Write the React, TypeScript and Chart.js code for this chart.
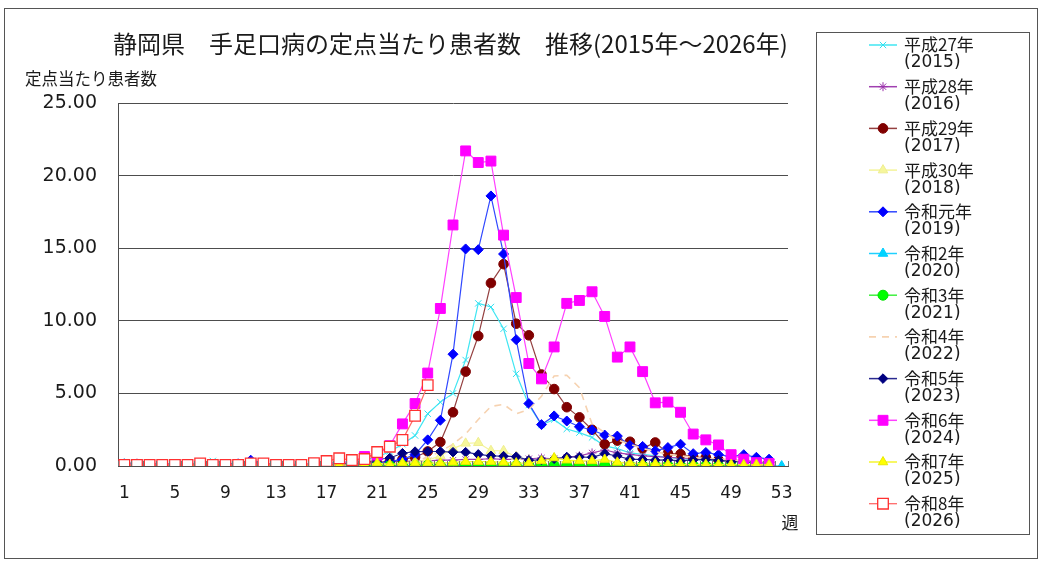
import React, { useEffect, useRef } from 'react';
import { Chart, registerables } from 'chart.js';

Chart.register(...registerables);

const TITLE = '静岡県　手足口病の定点当たり患者数　推移(2015年～2026年)';
const Y_TITLE = '定点当たり患者数';
const X_UNIT = '週';

const weeks = ['1','2','3','4','5','6','7','8','9','10','11','12','13','14','15','16','17','18','19','20','21','22','23','24','25','26','27','28','29','30','31','32','33','34','35','36','37','38','39','40','41','42','43','44','45','46','47','48','49','50','51','52','53'];
const yTicks = [0, 5, 10, 15, 20, 25];

const eraLabels = ['平成27年','平成28年','平成29年','平成30年','令和元年','令和2年','令和3年','令和4年','令和5年','令和6年','令和7年','令和8年'];
const yearLabels = ['(2015)','(2016)','(2017)','(2018)','(2019)','(2020)','(2021)','(2022)','(2023)','(2024)','(2025)','(2026)'];

const y2015 = [0.1,0.1,0.1,0.1,0.1,0.15,0.2,0.35,0.2,0.15, 0.15,0.15,0.1,0.1,0.15,0.15,0.2,0.25,0.3,0.45, 0.6,1.0,1.5,2.1,3.6,4.4,5.0,7.3,11.2,10.95, 9.45,6.35,4.2,2.82,3.2,2.55,2.3,1.97,1.38,1.2, 0.9,0.8,0.7,0.6,0.5,0.45,0.4,0.35,0.3,0.3, 0.25,0.2];
const y2016 = [0.2,0.2,0.15,0.15,0.15,0.1,0.1,0.1,0.1,0.15, 0.3,0.15,0.1,0.1,0.1,0.1,0.1,0.15,0.15,0.2, 0.25,0.3,0.3,0.35,0.35,0.4,0.4,0.45,0.45,0.5, 0.45,0.45,0.5,0.55,0.5,0.6,0.7,0.9,1.1,0.9, 0.8,0.7,0.65,0.6,0.55,0.5,0.45,0.4,0.35,0.3, 0.3,0.25];
const y2017 = [0.1,0.1,0.1,0.1,0.05,0.05,0.05,0.05,0.05,0.05, 0.05,0.05,0.05,0.05,0.05,0.1,0.1,0.1,0.15,0.2, 0.2,0.3,0.45,0.6,1.0,1.65,3.7,6.5,8.95,12.6, 13.9,9.8,9.0,6.3,5.3,4.05,3.35,2.5,1.5,1.75, 1.67,1.22,1.62,0.87,0.82,0.62,0.6,0.42,0.4,0.35, 0.3,0.25];
const y2018 = [0.05,0.05,0.05,0.05,0.05,0.05,0.05,0.05,0.05,0.05, 0.05,0.05,0.05,0.05,0.05,0.05,0.1,0.1,0.1,0.1, 0.15,0.15,0.2,0.3,0.4,0.7,1.2,1.56,1.6,1.05, 1.05,0.64,0.4,0.35,0.3,0.3,0.3,0.3,0.3,0.25, 0.25,0.2,0.2,0.2,0.15,0.15,0.15,0.15,0.1,0.1, 0.1,0.1];
const y2019 = [0.1,0.1,0.1,0.1,0.1,0.1,0.1,0.1,0.1,0.15, 0.4,0.15,0.1,0.1,0.1,0.1,0.1,0.1,0.15,0.15, 0.2,0.3,0.45,0.8,1.8,3.15,7.7,14.95,14.9,18.6, 14.6,8.7,4.3,2.85,3.45,3.1,2.7,2.48,2.13,2.06, 1.42,1.35,1.05,1.27,1.5,0.85,0.93,0.78,0.65,0.78, 0.6,0.47];
const y2020 = [0.12,0.1,0.1,0.1,0.08,0.08,0.07,0.07,0.06,0.06, 0.05,0.05,0.03,0.03,0.02,0.02,0.02,0.02,0.02,0.02, 0.02,0.02,0.02,0.02,0.03,0.02,0.02,0.02,0.02,0.02, 0.02,0.02,0.02,0.03,0.02,0.02,0.02,0.02,0.02,0.02, 0.02,0.02,0.02,0.02,0.02,0.03,0.02,0.02,0.02,0.02, 0.02,0.02,0.0];
const y2021 = [0.02,0.02,0.03,0.02,0.02,0.03,0.02,0.02,0.03,0.02, 0.02,0.03,0.02,0.02,0.03,0.02,0.03,0.02,0.03,0.04, 0.03,0.04,0.05,0.04,0.05,0.04,0.05,0.05,0.06,0.05, 0.05,0.04,0.05,0.04,0.04,0.05,0.04,0.03,0.04,0.03, 0.03,0.04,0.03,0.03,0.02,0.03,0.03,0.02,0.02,0.03, 0.02,0.02];
const y2022 = [0.05,0.05,0.05,0.05,0.04,0.04,0.04,0.04,0.04,0.05, 0.05,0.05,0.05,0.05,0.06,0.06,0.07,0.08,0.08,0.1, 0.1,0.12,0.15,0.3,0.6,1.0,1.5,2.2,3.2,4.1, 4.25,3.6,3.9,4.8,6.2,6.25,5.4,2.9,2.3,1.8, 1.5,1.2,1.0,0.8,0.7,0.6,0.5,0.5,0.4,0.4, 0.3,0.3];
const y2023 = [0.05,0.05,0.05,0.05,0.05,0.05,0.05,0.05,0.05,0.05, 0.05,0.05,0.05,0.05,0.06,0.08,0.1,0.12,0.15,0.2, 0.45,0.55,0.88,0.99,1.0,1.0,0.95,0.95,0.8,0.7, 0.68,0.64,0.4,0.42,0.5,0.62,0.62,0.6,0.85,0.69, 0.46,0.45,0.4,0.42,0.35,0.42,0.45,0.4,0.3,0.28, 0.22,0.22];
const y2024 = [0.1,0.1,0.1,0.1,0.1,0.1,0.1,0.1,0.1,0.1, 0.1,0.1,0.1,0.1,0.1,0.15,0.15,0.2,0.3,0.65, 0.75,1.4,2.9,4.3,6.4,10.85,16.6,21.7,20.9,21.0, 15.9,11.6,7.06,6.0,8.2,11.2,11.4,12.0,10.3,7.5, 8.2,6.5,4.35,4.4,3.7,2.2,1.8,1.45,0.78,0.47, 0.23,0.18];
const y2025 = [0.05,0.05,0.05,0.05,0.05,0.05,0.05,0.05,0.05,0.05, 0.05,0.05,0.05,0.05,0.05,0.05,0.05,0.1,0.05,0.1, 0.2,0.1,0.2,0.2,0.2,0.2,0.25,0.3,0.3,0.3, 0.25,0.2,0.2,0.35,0.55,0.4,0.35,0.35,0.45,0.25, 0.2,0.15,0.15,0.1,0.1,0.1,0.1,0.1,0.1,0.08, 0.1,0.08];
const y2026 = [0.07,0.07,0.07,0.07,0.07,0.07,0.18,0.07,0.07,0.07, 0.18,0.18,0.07,0.07,0.07,0.2,0.34,0.53,0.41,0.48, 0.96,1.33,1.79,3.46,5.57];

type Style = {
  line: string; point: string; fill: string; stroke: string; radius: number; dash?: number[]; bw?: number;
};
const seriesData = [y2015, y2016, y2017, y2018, y2019, y2020, y2021, y2022, y2023, y2024, y2025, y2026];
const styles: Style[] = [
  { line: '#40e6f2', point: 'crossRot', fill: '#40e6f2', stroke: '#30e0f0', radius: 4.5 },
  { line: '#a040b0', point: 'star', fill: '#a040b0', stroke: '#9a30aa', radius: 4.5 },
  { line: '#944040', point: 'circle', fill: '#800000', stroke: '#800000', radius: 4.8 },
  { line: '#f4f49a', point: 'triangle', fill: '#f6f69c', stroke: '#eeee90', radius: 5.5 },
  { line: '#3048ff', point: 'rectRot', fill: '#0000ff', stroke: '#0000ff', radius: 5 },
  { line: '#20d0ff', point: 'triangle', fill: '#00d4ff', stroke: '#00ccff', radius: 5.5 },
  { line: '#40f040', point: 'circle', fill: '#00ff00', stroke: '#00e000', radius: 5 },
  { line: '#f6d2b0', point: 'circle', fill: '#f6d2b0', stroke: '#f6d2b0', radius: 0, dash: [7, 6], bw: 1.6 },
  { line: '#2a2a90', point: 'rectRot', fill: '#000080', stroke: '#000080', radius: 4.8 },
  { line: '#ff40ff', point: 'rect', fill: '#ff00ff', stroke: '#ff00ff', radius: 7 },
  { line: '#f4f430', point: 'triangle', fill: '#ffff00', stroke: '#e8e800', radius: 5.5 },
  { line: '#ff6a6a', point: 'rect', fill: '#ffffff', stroke: '#ff3030', radius: 7.5, bw: 1.3 },
];

function drawMarker(ctx: CanvasRenderingContext2D, s: Style, x: number, y: number) {
  const r = s.radius;
  if (r <= 0) return;
  ctx.save();
  ctx.setLineDash([]);
  ctx.fillStyle = s.fill;
  ctx.strokeStyle = s.stroke;
  ctx.lineWidth = s.point === 'rect' && s.fill === '#ffffff' ? 1.3 : 1;
  ctx.beginPath();
  let fill = true;
  switch (s.point) {
    case 'circle':
      ctx.arc(x, y, r, 0, Math.PI * 2);
      break;
    case 'triangle': {
      let a = 0;
      ctx.moveTo(x + Math.sin(a) * r, y - Math.cos(a) * r);
      a += (2 * Math.PI) / 3;
      ctx.lineTo(x + Math.sin(a) * r, y - Math.cos(a) * r);
      a += (2 * Math.PI) / 3;
      ctx.lineTo(x + Math.sin(a) * r, y - Math.cos(a) * r);
      ctx.closePath();
      break;
    }
    case 'rectRot':
      ctx.moveTo(x - r, y);
      ctx.lineTo(x, y - r);
      ctx.lineTo(x + r, y);
      ctx.lineTo(x, y + r);
      ctx.closePath();
      break;
    case 'rect': {
      const h = r * Math.SQRT1_2;
      ctx.rect(x - h, y - h, 2 * h, 2 * h);
      break;
    }
    case 'crossRot': {
      fill = false;
      const d = r * Math.SQRT1_2;
      ctx.moveTo(x - d, y - d); ctx.lineTo(x + d, y + d);
      ctx.moveTo(x + d, y - d); ctx.lineTo(x - d, y + d);
      break;
    }
    case 'star': {
      fill = false;
      const d = r * Math.SQRT1_2;
      ctx.moveTo(x - d, y - d); ctx.lineTo(x + d, y + d);
      ctx.moveTo(x + d, y - d); ctx.lineTo(x - d, y + d);
      ctx.moveTo(x, y - r); ctx.lineTo(x, y + r);
      ctx.moveTo(x - r, y); ctx.lineTo(x + r, y);
      break;
    }
  }
  if (fill) ctx.fill();
  ctx.stroke();
  ctx.restore();
}

const TEXT = '#1a1a1a';
const CJK = '"Noto Sans CJK JP", "Noto Sans", sans-serif';
const NUM = '"DejaVu Sans", "Noto Sans CJK JP", sans-serif';

const decorPlugin = {
  id: 'decor',
  afterDraw(chart: any) {
    const ctx: CanvasRenderingContext2D = chart.ctx;
    const area = chart.chartArea;
    const xs = chart.scales.x;
    ctx.save();
    // outer frame
    ctx.strokeStyle = '#555';
    ctx.lineWidth = 1;
    ctx.strokeRect(4.5, 8.5, 1033, 550);
    // small tick marks at category boundaries (inside plot)
    ctx.strokeStyle = '#777';
    const n = weeks.length;
    const step = (xs.right - xs.left) / n;
    ctx.beginPath();
    for (let k = 0; k <= n; k++) {
      const x = Math.round(xs.left + k * step) + 0.5;
      ctx.moveTo(x, area.bottom);
      ctx.lineTo(x, area.bottom - 5);
    }
    ctx.stroke();
    // title
    ctx.fillStyle = TEXT;
    ctx.textBaseline = 'middle';
    ctx.textAlign = 'left';
    ctx.font = `24px ${CJK}`;
    ctx.fillText(TITLE, 113, 44);
    // y axis title
    ctx.font = `16.5px ${CJK}`;
    ctx.fillText(Y_TITLE, 25, 79);
    // x unit
    ctx.font = `17px ${CJK}`;
    ctx.textAlign = 'center';
    ctx.fillText(X_UNIT, 790, 523);
    // legend box
    ctx.strokeStyle = '#555';
    ctx.lineWidth = 1;
    ctx.strokeRect(816.5, 32.5, 213, 502);
    ctx.textAlign = 'left';
    for (let i = 0; i < styles.length; i++) {
      const s = styles[i];
      const y = 45 + i * 41.7;
      ctx.save();
      ctx.strokeStyle = s.line;
      ctx.lineWidth = s.bw ?? 1.5;
      ctx.setLineDash(s.dash ?? []);
      ctx.beginPath();
      ctx.moveTo(869, y);
      ctx.lineTo(897, y);
      ctx.stroke();
      ctx.restore();
      drawMarker(ctx, s, 883, y);
      ctx.fillStyle = TEXT;
      ctx.font = `17px ${CJK}`;
      ctx.fillText(eraLabels[i], 904, y);
      ctx.font = `17px ${NUM}`;
      ctx.fillText(yearLabels[i], 904, y + 18);
    }
    ctx.restore();
  },
};

export default function App() {
  const ref = useRef<HTMLCanvasElement>(null);
  useEffect(() => {
    if (!ref.current) return;
    const datasets = seriesData.map((d, i) => {
      const s = styles[i];
      return {
        label: eraLabels[i] + yearLabels[i],
        data: d,
        order: styles.length - 1 - i,
        borderColor: s.line,
        borderWidth: s.bw ?? 1.2,
        borderDash: s.dash ?? [],
        backgroundColor: s.fill,
        pointStyle: s.point,
        pointRadius: s.radius,
        pointHoverRadius: s.radius,
        pointBackgroundColor: s.fill,
        pointBorderColor: s.stroke,
        pointBorderWidth: s.point === 'rect' && s.fill === '#ffffff' ? 1.3 : 1,
        fill: false,
        tension: 0,
        spanGaps: false,
      };
    });
    const chart = new Chart(ref.current, {
      type: 'line',
      data: { labels: weeks, datasets },
      options: {
        animation: false,
        responsive: true,
        maintainAspectRatio: false,
        layout: { padding: { left: 0, top: 103, right: 253, bottom: 0 } },
        plugins: { legend: { display: false }, title: { display: false }, tooltip: { enabled: false } },
        scales: {
          x: {
            type: 'category',
            offset: true,
            grid: { display: false, drawTicks: false },
            border: { display: true, color: '#4d4d4d', width: 1 },
            ticks: {
              autoSkip: false,
              maxRotation: 0,
              padding: 17,
              color: TEXT,
              font: { family: NUM, size: 17 },
              callback: (_v: any, idx: number) => (idx % 4 === 0 ? weeks[idx] : ''),
            },
            afterFit: (scale: any) => { scale.height = 97; },
          },
          y: {
            min: 0,
            max: 25,
            afterBuildTicks: (scale: any) => { scale.ticks = yTicks.map((v) => ({ value: v })); },
            grid: { color: '#4d4d4d', lineWidth: 1, drawTicks: false },
            border: { display: true, color: '#4d4d4d', width: 1 },
            ticks: {
              padding: 21,
              color: TEXT,
              font: { family: NUM, size: 19 },
              callback: (v: any) => Number(v).toFixed(2),
            },
            afterFit: (scale: any) => { scale.width = 118; },
          },
        },
      },
      plugins: [decorPlugin],
    });
    return () => chart.destroy();
  }, []);
  return (
    <div style={{ position: 'absolute', left: 0, top: 0, width: 1041, height: 563, background: '#fff' }}>
      <canvas ref={ref} />
    </div>
  );
}
